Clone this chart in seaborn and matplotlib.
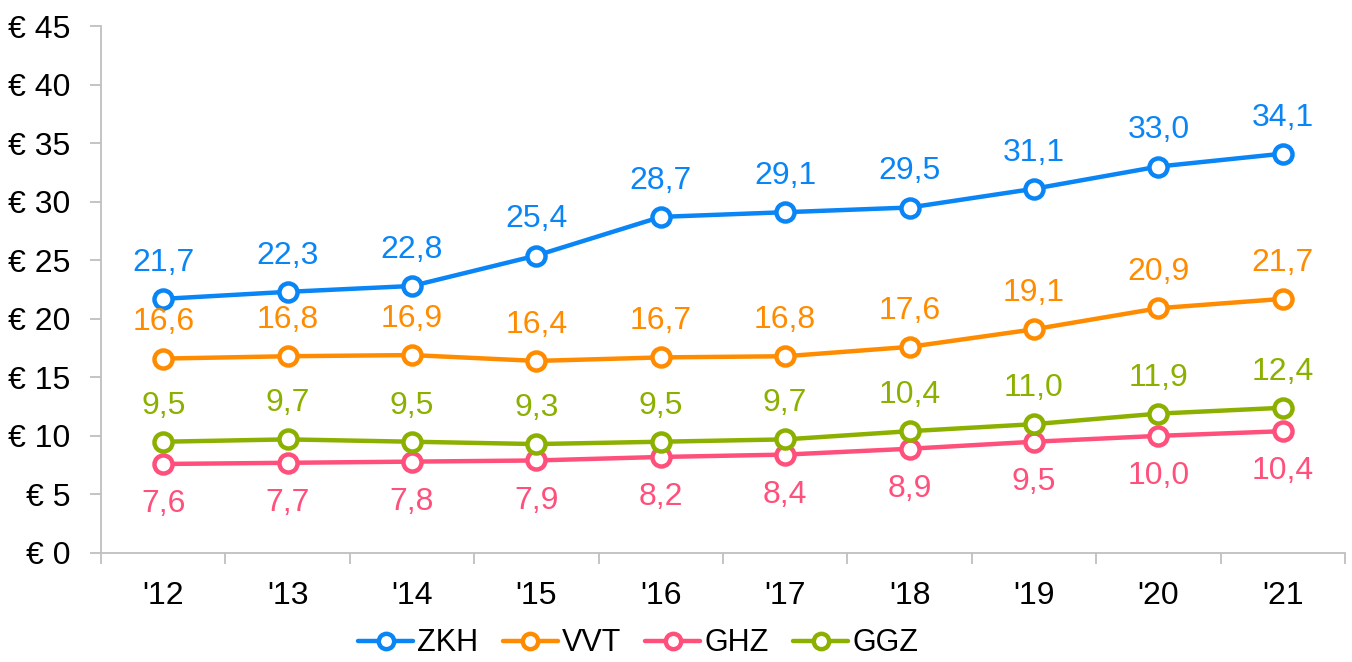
import matplotlib
matplotlib.use("Agg")
import matplotlib.pyplot as plt
import seaborn as sns
import pandas as pd
import numpy as np
from matplotlib.ticker import FixedLocator, FuncFormatter

years = ["'12", "'13", "'14", "'15", "'16", "'17", "'18", "'19", "'20", "'21"]
zkh = [21.7, 22.3, 22.8, 25.4, 28.7, 29.1, 29.5, 31.1, 33.0, 34.1]
vvt = [16.6, 16.8, 16.9, 16.4, 16.7, 16.8, 17.6, 19.1, 20.9, 21.7]
ghz = [7.6, 7.7, 7.8, 7.9, 8.2, 8.4, 8.9, 9.5, 10.0, 10.4]
ggz = [9.5, 9.7, 9.5, 9.3, 9.5, 9.7, 10.4, 11.0, 11.9, 12.4]
series_names = ["ZKH", "VVT", "GHZ", "GGZ"]
colors = {"ZKH": "#0A85F5", "VVT": "#FF8C00", "GHZ": "#FF4F7B", "GGZ": "#8CB000"}
label_offset = {"ZKH": 26, "VVT": 26, "GHZ": -29, "GGZ": 26}

values = {"ZKH": zkh, "VVT": vvt, "GHZ": ghz, "GGZ": ggz}
rows = []
for name in series_names:
    for i, y in enumerate(years):
        rows.append({"year": y, "idx": i, "value": values[name][i], "series": name})
df = pd.DataFrame(rows)

sns.set_theme(style="white")
plt.rcParams["font.family"] = ["Liberation Sans", "DejaVu Sans"]
plt.rcParams["text.color"] = "black"

FS = 23

fig = plt.figure(figsize=(13.52, 6.62), dpi=100)
ax = fig.add_axes([0.0747, 0.1647, 0.9201, 0.7960])

sns.lineplot(data=df, x="idx", y="value", hue="series", hue_order=series_names,
             palette=colors, marker="o", markersize=13, markerfacecolor="white",
             markeredgewidth=3.2, linewidth=3.2, ax=ax, legend=True)
for line in ax.lines:
    line.set_markeredgecolor(line.get_color())

for name in series_names:
    for i, v in enumerate(values[name]):
        ax.annotate(f"{v:.1f}".replace(".", ","), (i, v), xytext=(0, label_offset[name]),
                    textcoords="offset points", ha="center", va="center",
                    fontsize=FS, color=colors[name])

ax.set_xlim(-0.5, len(years) - 0.5)
ax.set_ylim(0, 45)
ax.set_xticks(range(len(years)))
ax.set_xticklabels(years)
ax.xaxis.set_minor_locator(FixedLocator(np.arange(-0.5, len(years), 1.0)))
ax.tick_params(axis="x", which="major", bottom=True, length=0, pad=20, labelsize=FS, labelcolor="black")
ax.tick_params(axis="x", which="minor", bottom=True, length=8, width=1.3, color="#BFBFBF", direction="out")
ax.set_yticks(range(0, 46, 5))
ax.yaxis.set_major_formatter(FuncFormatter(lambda v, p: f"€ {int(v)}"))
ax.tick_params(axis="y", which="major", left=True, length=8, width=1.3, color="#BFBFBF",
               direction="out", pad=14, labelsize=FS, labelcolor="black")
ax.set_xlabel("")
ax.set_ylabel("")
for s in ["top", "right"]:
    ax.spines[s].set_visible(False)
for s in ["left", "bottom"]:
    ax.spines[s].set_color("#BFBFBF")
    ax.spines[s].set_linewidth(1.3)

handles, labels = ax.get_legend_handles_labels()
ax.get_legend().remove()
for h in handles:
    h.set_markeredgecolor(h.get_color())
    h.set_markerfacecolor("white")
leg = fig.legend(handles, labels, loc="center", bbox_to_anchor=(0.472, 0.028),
                 bbox_transform=fig.transFigure, ncol=4, frameon=False, fontsize=22,
                 handlelength=1.8, handletextpad=0.13, columnspacing=0.8, markerscale=0.85,
                 borderpad=0.1, labelcolor="black")

fig.savefig("out.png", dpi=100)
